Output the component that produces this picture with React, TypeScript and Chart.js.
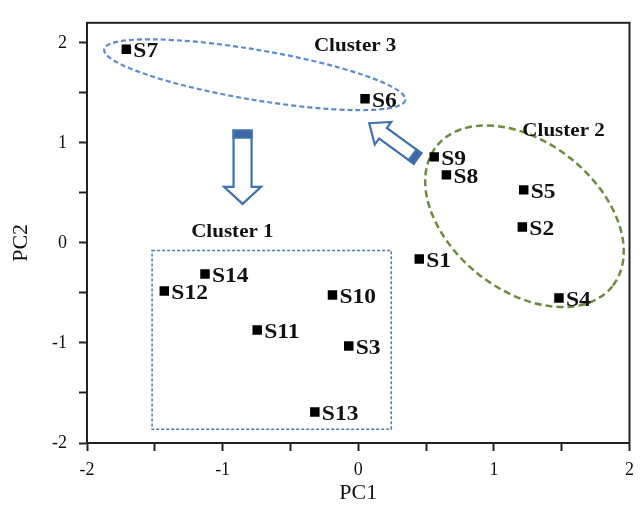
import { useEffect, useRef } from 'react';
import { Chart, registerables } from 'chart.js';

Chart.register(...registerables);

// ---------- data ----------
const sampleLabels = ['S1', 'S2', 'S3', 'S4', 'S5', 'S6', 'S7', 'S8', 'S9', 'S10', 'S11', 'S12', 'S13', 'S14'];
const pc1Values = [0.45, 1.21, -0.07, 1.48, 1.22, 0.05, -1.71, 0.65, 0.56, -0.19, -0.745, -1.43, -0.32, -1.13];
const pc2Values = [-0.16, 0.16, -1.03, -0.55, 0.53, 1.44, 1.935, 0.68, 0.86, -0.52, -0.87, -0.48, -1.69, -0.31];
const tickValues = [-2, -1.5, -1, -0.5, 0, 0.5, 1, 1.5, 2];
const xLimits = [-2, 2];
const yLimits = [-2, 2.2];
const xTitle = 'PC1';
const yTitle = 'PC2';

// ---------- annotations (data coordinates) ----------
const clusterLabels = [
  { text: 'Cluster 3', x: -0.023, y: 1.967 },
  { text: 'Cluster 2', x: 1.514, y: 1.115 },
  { text: 'Cluster 1', x: -0.928, y: 0.11 },
];
const cluster3Ellipse = { from: [-1.873, 1.935], to: [0.347, 1.427] };
const cluster2Ellipse = { from: [0.577, 0.966], to: [1.874, -0.433] };
const cluster1Box = { x0: -1.52, x1: 0.243, y0: -1.863, y1: -0.075 };
const arrowDown = { from: [-0.853, 1.122], to: [-0.853, 0.39] };
const arrowDiag = { from: [0.437, 0.845], to: [0.081, 1.196] };

const SERIF = '"Liberation Serif", "Times New Roman", serif';

function stretchedText(ctx: CanvasRenderingContext2D, text: string, x: number, y: number, font: string, sx: number, align: CanvasTextAlign, baseline: CanvasTextBaseline) {
  ctx.save();
  ctx.translate(x, y);
  ctx.scale(sx, 1);
  ctx.font = font;
  ctx.textAlign = align;
  ctx.textBaseline = baseline;
  ctx.fillStyle = '#111';
  ctx.fillText(text, 0, 0);
  ctx.restore();
}

function drawEllipse(ctx: CanvasRenderingContext2D, xs: any, ys: any, e: { from: number[]; to: number[] }, minor: number, color: string, dash: number[], lw: number) {
  const x1 = xs.getPixelForValue(e.from[0]);
  const y1 = ys.getPixelForValue(e.from[1]);
  const x2 = xs.getPixelForValue(e.to[0]);
  const y2 = ys.getPixelForValue(e.to[1]);
  const cx = (x1 + x2) / 2;
  const cy = (y1 + y2) / 2;
  const a = Math.hypot(x2 - x1, y2 - y1) / 2;
  const rot = Math.atan2(y2 - y1, x2 - x1);
  ctx.save();
  ctx.beginPath();
  ctx.ellipse(cx, cy, a, minor, rot, 0, Math.PI * 2);
  ctx.setLineDash(dash);
  ctx.lineWidth = lw;
  ctx.strokeStyle = color;
  ctx.stroke();
  ctx.restore();
}

function drawArrow(ctx: CanvasRenderingContext2D, xs: any, ys: any, ar: { from: number[]; to: number[] }, sw: number, hw: number, hl: number, bar: number) {
  const tx = xs.getPixelForValue(ar.from[0]);
  const ty = ys.getPixelForValue(ar.from[1]);
  const px = xs.getPixelForValue(ar.to[0]);
  const py = ys.getPixelForValue(ar.to[1]);
  const len = Math.hypot(px - tx, py - ty);
  const ux = (px - tx) / len;
  const uy = (py - ty) / len;
  const nx = -uy;
  const ny = ux;
  const bx = px - ux * hl;
  const by = py - uy * hl;
  const pts = [
    [tx + nx * sw / 2, ty + ny * sw / 2],
    [bx + nx * sw / 2, by + ny * sw / 2],
    [bx + nx * hw / 2, by + ny * hw / 2],
    [px, py],
    [bx - nx * hw / 2, by - ny * hw / 2],
    [bx - nx * sw / 2, by - ny * sw / 2],
    [tx - nx * sw / 2, ty - ny * sw / 2],
  ];
  ctx.save();
  ctx.setLineDash([]);
  ctx.beginPath();
  pts.forEach((p, i) => (i === 0 ? ctx.moveTo(p[0], p[1]) : ctx.lineTo(p[0], p[1])));
  ctx.closePath();
  ctx.fillStyle = '#ffffff';
  ctx.fill();
  ctx.lineWidth = 2.2;
  ctx.lineJoin = 'miter';
  ctx.strokeStyle = '#4272ad';
  ctx.stroke();
  // filled tail bar
  ctx.beginPath();
  ctx.moveTo(tx + nx * sw / 2, ty + ny * sw / 2);
  ctx.lineTo(tx + nx * sw / 2 + ux * bar, ty + ny * sw / 2 + uy * bar);
  ctx.lineTo(tx - nx * sw / 2 + ux * bar, ty - ny * sw / 2 + uy * bar);
  ctx.lineTo(tx - nx * sw / 2, ty - ny * sw / 2);
  ctx.closePath();
  ctx.fillStyle = '#3a67a3';
  ctx.fill();
  ctx.stroke();
  ctx.restore();
}

const overlayPlugin = {
  id: 'overlay',
  beforeDatasetsDraw(chart: any) {
    const { ctx, chartArea: ca } = chart;
    const xs = chart.scales.x;
    const ys = chart.scales.y;
    ctx.save();
    ctx.setLineDash([]);
    ctx.strokeStyle = '#222';
    ctx.lineWidth = 2;
    ctx.strokeRect(ca.left, ca.top, ca.right - ca.left, ca.bottom - ca.top);
    ctx.restore();

    drawEllipse(ctx, xs, ys, cluster3Ellipse, 25, '#5b8dcf', [5, 3], 2.2);
    drawEllipse(ctx, xs, ys, cluster2Ellipse, 74, '#6e8c40', [7, 4], 2.5);

    // cluster 1 box
    const bx0 = xs.getPixelForValue(cluster1Box.x0);
    const bx1 = xs.getPixelForValue(cluster1Box.x1);
    const by0 = ys.getPixelForValue(cluster1Box.y1);
    const by1 = ys.getPixelForValue(cluster1Box.y0);
    ctx.save();
    ctx.setLineDash([3, 2]);
    ctx.lineWidth = 1.5;
    ctx.strokeStyle = '#4a7bbd';
    ctx.strokeRect(bx0, by0, bx1 - bx0, by1 - by0);
    ctx.restore();

    drawArrow(ctx, xs, ys, arrowDown, 18, 37, 17, 7);
    drawArrow(ctx, xs, ys, arrowDiag, 13, 28, 17, 6);

    clusterLabels.forEach((c) => {
      stretchedText(ctx, c.text, xs.getPixelForValue(c.x), ys.getPixelForValue(c.y), `bold 18px ${SERIF}`, 1.17, 'center', 'middle');
    });
  },
  afterDatasetsDraw(chart: any) {
    const { ctx } = chart;
    const xs = chart.scales.x;
    const ys = chart.scales.y;
    sampleLabels.forEach((lab, i) => {
      const px = xs.getPixelForValue(pc1Values[i]);
      const py = ys.getPixelForValue(pc2Values[i]);
      stretchedText(ctx, lab, px + 7, py + 8, `bold 21px ${SERIF}`, 1.12, 'left', 'alphabetic');
    });
  },
  afterDraw(chart: any) {
    const { ctx } = chart;
    const xs = chart.scales.x;
    const ys = chart.scales.y;
    stretchedText(ctx, xTitle, xs.getPixelForValue(0), 494, `20px ${SERIF}`, 1.1, 'center', 'middle');
    ctx.save();
    ctx.translate(22, ys.getPixelForValue(0));
    ctx.rotate(-Math.PI / 2);
    stretchedText(ctx, yTitle, 0, 0, `20px ${SERIF}`, 1.1, 'center', 'middle');
    ctx.restore();
  },
};

const tickCallback = (v: any) => (Number.isInteger(Number(v)) ? String(v) : '');

export default function App() {
  const ref = useRef<HTMLCanvasElement | null>(null);
  useEffect(() => {
    document.body.style.margin = '0';
    if (!ref.current) return;
    const axisCommon = {
      type: 'linear' as const,
      afterBuildTicks: (scale: any) => {
        scale.ticks = tickValues.map((v) => ({ value: v }));
      },
      grid: {
        display: true,
        drawOnChartArea: false,
        drawTicks: true,
        tickLength: 8,
        tickWidth: 2,
        tickColor: '#222',
      },
      border: { display: true, width: 2, color: '#222' },
    };
    const chart = new Chart(ref.current, {
      type: 'scatter',
      data: {
        datasets: [
          {
            label: 'samples',
            data: pc1Values.map((x, i) => ({ x, y: pc2Values[i] })),
            pointStyle: 'rect',
            pointRadius: 6.7,
            pointHoverRadius: 6.7,
            backgroundColor: '#000',
            borderWidth: 0,
          },
        ],
      },
      options: {
        responsive: false,
        animation: false,
        devicePixelRatio: 1,
        layout: { padding: { top: 13, right: 9, left: 0, bottom: 0 } },
        plugins: { legend: { display: false }, tooltip: { enabled: false } },
        scales: {
          x: {
            ...axisCommon,
            min: xLimits[0],
            max: xLimits[1],
            afterFit: (scale: any) => {
              scale.height = 66;
            },
            ticks: {
              autoSkip: false,
              maxRotation: 0,
              padding: 8,
              color: '#111',
              font: { family: SERIF, size: 18 },
              callback: tickCallback,
            },
          },
          y: {
            ...axisCommon,
            min: yLimits[0],
            max: yLimits[1],
            afterFit: (scale: any) => {
              scale.width = 87;
            },
            ticks: {
              autoSkip: false,
              padding: 12,
              color: '#111',
              font: { family: SERIF, size: 18 },
              callback: tickCallback,
            },
          },
        },
      } as any,
      plugins: [overlayPlugin],
    });
    return () => chart.destroy();
  }, []);
  return (
    <div style={{ width: 642, height: 509, background: '#fff' }}>
      <canvas ref={ref} width={642} height={509} style={{ display: 'block' }} />
    </div>
  );
}
